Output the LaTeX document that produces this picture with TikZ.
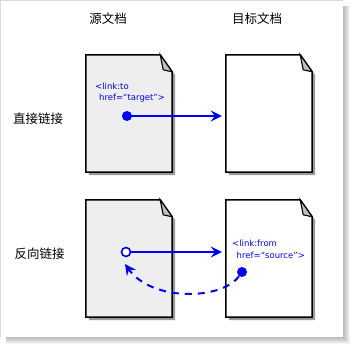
\documentclass[tikz,border=0pt]{standalone}
\usepackage{fontspec}
\newfontfamily\cjk{Noto Sans CJK SC}
\newfontfamily\codefont{DejaVu Sans}
\usetikzlibrary{arrows.meta,calc}
\definecolor{linkblue}{RGB}{0,0,255}
\definecolor{docgray}{RGB}{238,238,238}
\definecolor{shadowgray}{RGB}{153,153,153}
\definecolor{foldgray}{RGB}{192,192,192}
\tikzset{
  docbox/.style={rectangle,draw=none,inner sep=0pt,minimum width=86pt,minimum height=117pt},
  label/.style={font=\cjk\fontsize{12.5}{14}\selectfont,inner sep=0pt},
  code/.style={font=\codefont\fontsize{8.5}{10}\selectfont,text=linkblue,inner sep=0pt,anchor=base west},
  dot/.style={circle,fill=linkblue,inner sep=0pt,minimum size=10pt},
  odot/.style={circle,draw=linkblue,fill=white,line width=1.6pt,inner sep=0pt,minimum size=9pt},
  link/.style={draw=linkblue,line width=2pt,-{Stealth[length=11pt,width=11pt,inset=4pt]}},
  backlink/.style={draw=linkblue,line width=2pt,dash pattern=on 7pt off 6pt,-{Stealth[length=11pt,width=11pt,inset=4pt]}}
}
\newcommand\drawdoc[2]{%
  \fill[shadowgray] ($(#1.north east)+(3,20)$) -- ($(#1.south east)+(3,3)$) -- ($(#1.south west)+(3,3)$) -- ($(#1.south west)+(3,0)$) -- ($(#1.south east)$) -- ($(#1.north east)+(0,17)$) -- cycle;
  \filldraw[fill=#2,draw=black,line width=1.5pt,line join=miter]
    (#1.north west) -- ($(#1.north east)+(-12,0)$) -- ($(#1.north east)+(0,17)$) -- (#1.south east) -- (#1.south west) -- cycle;
  \filldraw[fill=foldgray,draw=black,line width=1.1pt,line join=miter]
    ($(#1.north east)+(-12,0)$) -- ($(#1.north east)+(-9,15)$) -- ($(#1.north east)+(0,17)$) -- cycle;
}
\begin{document}
\begin{tikzpicture}[x=1pt,y=-1pt]
\useasboundingbox (0,0) rectangle (352,347);
% frame with soft shadow
\foreach \i in {0,...,6}
  \fill[black,opacity=0.045] (6,6) rectangle ({350-\i},{344-\i});
\fill[white] (0,0) rectangle (343,337);
\draw[black!15,line width=0.8pt] (0.4,337) -- (0.4,0.4) -- (343,0.4);
% column and row labels
\node[label] (hsrc) at (108,18.5) {源文档};
\node[label] (htgt) at (257,18.5) {目标文档};
\node[label] (rdirect) at (38,119) {直接链接};
\node[label] (rreverse) at (39.5,253.5) {反向链接};
% documents
\node[docbox] (src1) at (129,113.5) {};
\node[docbox] (tgt1) at (269,113.5) {};
\node[docbox] (src2) at (129,258.5) {};
\node[docbox] (tgt2) at (269,258.5) {};
\drawdoc{src1}{docgray}
\drawdoc{tgt1}{white}
\drawdoc{src2}{docgray}
\drawdoc{tgt2}{white}
% direct link
\node[code] (code1a) at (95,89.5) {<link:to};
\node[code] (code1b) at (99,100.5) {href=“target”>};
\node[dot] (d1) at (127,116) {};
\draw[link,shorten >=4pt] (d1.center) -- (d1 -| tgt1.west);
% reverse link
\node[code] (code2a) at (232,246) {<link:from};
\node[code] (code2b) at (236.5,258) {href=“source”>};
\node[odot] (o2) at (126,252) {};
\node[dot] (d2) at (242,272) {};
\draw[link,shorten >=4pt] (o2.east) -- (o2 -| tgt2.west);
\coordinate (back) at (125,264);
\draw[backlink] (d2) .. controls (222,300) and (152,302) .. (back);
\end{tikzpicture}
\end{document}
